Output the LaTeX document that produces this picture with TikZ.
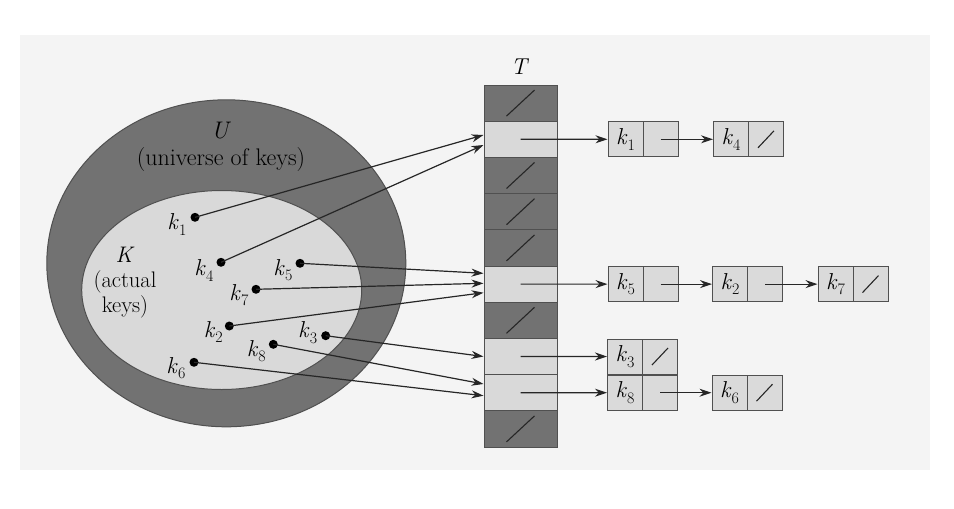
\documentclass[tikz,border=0pt]{standalone}
\usepackage{fontspec}
\usetikzlibrary{arrows.meta,calc,shapes.geometric}
\definecolor{bg}{HTML}{F4F4F4}
\definecolor{darkc}{HTML}{727272}
\definecolor{lightc}{HTML}{D9D9D9}
\definecolor{nodec}{HTML}{DADADA}
\definecolor{edgec}{HTML}{505050}
\newcommand\kk[1]{\textit{k}\kern0.3pt\raisebox{-5.5pt}{\fontsize{16}{16}\selectfont #1}}
\begin{document}
\begin{tikzpicture}[x=1pt,y=-1pt,
  arr/.style={draw=black!85, line width=1.2pt, -{Stealth[length=12pt,width=8pt]}},
  dcell/.style={draw=edgec, line width=1pt, fill=darkc, minimum width=73pt, minimum height=36.2pt, inner sep=0pt},
  lcell/.style={dcell, fill=lightc},
  half/.style={draw=edgec, line width=1pt, fill=nodec, minimum width=35pt, minimum height=35pt, inner sep=0pt, font=\fontsize{23}{23}\selectfont},
  keydot/.style={circle, fill=black, inner sep=0pt, minimum size=9pt},
  klab/.style={inner sep=0pt, font=\fontsize{23}{23}\selectfont},
  slash/.style={draw=black!85, line width=1.1pt}
]
\useasboundingbox (0,0) rectangle (954,509);
\fill[bg] (20,35) rectangle (930,470);

% sets
\node[ellipse, draw=edgec, line width=1pt, fill=darkc, minimum width=359pt, minimum height=327pt, inner sep=0pt] (U) at (226.3,263.3) {};
\node[ellipse, draw=edgec, line width=1pt, fill=lightc, minimum width=280pt, minimum height=199pt, inner sep=0pt] (K) at (221.7,290) {};
\node[align=center, font=\fontsize{24}{27}\selectfont, inner sep=0pt] (ulab) at (221,147) {\textit{U}\\(universe of keys)};
\node[align=center, font=\fontsize{22.5}{25}\selectfont, inner sep=0pt] (klabel) at (125,283) {\textit{K}\\(actual\\keys)};

% key dots
\node[keydot] (d1) at (195,217.3) {};
\node[keydot] (d4) at (221,262.3) {};
\node[keydot] (d5) at (300,263.3) {};
\node[keydot] (d7) at (256,289.3) {};
\node[keydot] (d2) at (229.3,326) {};
\node[keydot] (d3) at (325.7,335.7) {};
\node[keydot] (d8) at (273.3,344.3) {};
\node[keydot] (d6) at (194,362.3) {};
\node[klab] (l1) at ($(d1)+(-18,7)$) {\kk{1}};
\node[klab] (l4) at ($(d4)+(-17,8)$) {\kk{4}};
\node[klab] (l5) at ($(d5)+(-17,7)$) {\kk{5}};
\node[klab] (l7) at ($(d7)+(-17,6)$) {\kk{7}};
\node[klab] (l2) at ($(d2)+(-16,6)$) {\kk{2}};
\node[klab] (l3) at ($(d3)+(-18,-3)$) {\kk{3}};
\node[klab] (l8) at ($(d8)+(-17,7)$) {\kk{8}};
\node[klab] (l6) at ($(d6)+(-18,6)$) {\kk{6}};

% table
\node[font=\fontsize{23}{23}\selectfont, inner sep=0pt] (Tlab) at (520,67) {\textit{T}};
\foreach \i/\s in {0/dcell,1/lcell,2/dcell,3/dcell,4/dcell,5/lcell,6/dcell,7/lcell,8/lcell,9/dcell}
  \node[\s] (t\i) at (520.5,{85+36.2*(\i+0.5)}) {};
\foreach \i in {0,2,3,4,6,9}
  \draw[slash] ($(t\i.center)+(-14,13)$) -- ($(t\i.center)+(14,-13)$);

% arrows from keys to slots
\draw[arr] (d1.center) -- ([yshift=4.3pt]t1.west);
\draw[arr] (d4.center) -- ([yshift=-5.7pt]t1.west);
\draw[arr] (d5.center) -- ([yshift=10.8pt]t5.west);
\draw[arr] (d7.center) -- ([yshift=0.8pt]t5.west);
\draw[arr] (d2.center) -- ([yshift=-8.6pt]t5.west);
\draw[arr] (d3.center) -- ([yshift=0pt]t7.west);
\draw[arr] (d8.center) -- ([yshift=8.7pt]t8.west);
\draw[arr] (d6.center) -- ([yshift=-3pt]t8.west);

% lists
\node[half] (a1k) at (625.5,139.3) {\kk{1}};
\node[half] (a1p) at (660.5,139.3) {};
\node[half] (a2k) at (731,139.3) {\kk{4}};
\node[half] (a2p) at (766,139.3) {};

\node[half] (b1k) at (625.5,284.1) {\kk{5}};
\node[half] (b1p) at (660.5,284.1) {};
\node[half] (b2k) at (730,284.1) {\kk{2}};
\node[half] (b2p) at (765,284.1) {};
\node[half] (b3k) at (835.5,284.1) {\kk{7}};
\node[half] (b3p) at (870.5,284.1) {};

\node[half] (e1k) at (625,356.5) {\kk{3}};
\node[half] (e1p) at (660,356.5) {};

\node[half] (f1k) at (625,392.7) {\kk{8}};
\node[half] (f1p) at (660,392.7) {};
\node[half] (f2k) at (729.5,392.7) {\kk{6}};
\node[half] (f2p) at (764.5,392.7) {};

\foreach \n in {a2p,b3p,e1p,f2p}
  \draw[slash] ($(\n.center)+(-8,8.5)$) -- ($(\n.center)+(8,-8.5)$);

\draw[arr] (t1.center) -- (a1k.west);
\draw[arr] (a1p.center) -- (a2k.west);
\draw[arr] (t5.center) -- (b1k.west);
\draw[arr] (b1p.center) -- (b2k.west);
\draw[arr] (b2p.center) -- (b3k.west);
\draw[arr] (t7.center) -- (e1k.west);
\draw[arr] (t8.center) -- (f1k.west);
\draw[arr] (f1p.center) -- (f2k.west);
\end{tikzpicture}
\end{document}
